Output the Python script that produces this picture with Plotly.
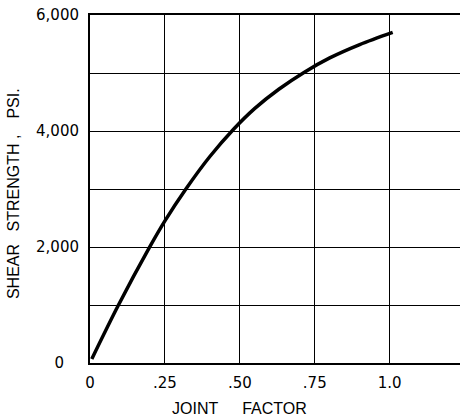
import plotly.graph_objects as go

# Curve data
joint_factor = [0.006, 0.095, 0.197, 0.25, 0.32, 0.40, 0.479, 0.55, 0.63, 0.714, 0.80, 0.90, 1.01]
shear_strength = [70, 1000, 1980, 2450, 3000, 3560, 4030, 4390, 4720, 5010, 5260, 5490, 5700]

# Axis ticks
x_tickvals = [0, 0.25, 0.5, 0.75, 1.0]
x_ticktext = ["0", ".25", ".50", ".75", "1.0"]
y_tickvals = [0, 1000, 2000, 3000, 4000, 5000, 6000]
y_ticktext = ["0\u2002\u2002", "", "2,000", "", "4,000", "", "6,000"]

x_title = "JOINT\u2003\u2002FACTOR"
y_title = "SHEAR\u2002 STRENGTH ,\u2003PSI."

fig = go.Figure()
fig.add_trace(go.Scatter(
    x=joint_factor, y=shear_strength, mode="lines",
    line=dict(color="black", width=3.5, shape="spline", smoothing=0.9),
    hoverinfo="skip",
))

tick_font = dict(family="DejaVu Sans", size=15, color="black")
title_font = dict(family="Liberation Sans, Arial", size=16, color="black")

fig.update_layout(
    width=460, height=419,
    margin=dict(l=90, r=0, t=15, b=56),
    paper_bgcolor="white", plot_bgcolor="white",
    showlegend=False,
    xaxis=dict(
        range=[0, 1.2346], tickvals=x_tickvals, ticktext=x_ticktext,
        showgrid=True, gridcolor="black", gridwidth=1.3,
        showline=True, linecolor="black", linewidth=2, mirror=True,
        zeroline=False, ticks="", tickfont=tick_font, ticklabelstandoff=5,
        fixedrange=True,
    ),
    yaxis=dict(
        range=[0, 6000], tickvals=y_tickvals, ticktext=y_ticktext,
        showgrid=True, gridcolor="black", gridwidth=1.3,
        showline=True, linecolor="black", linewidth=2, mirror=False,
        zeroline=False, ticks="", tickfont=tick_font, ticklabelstandoff=6,
        fixedrange=True,
    ),
    annotations=[
        dict(text=x_title, xref="paper", yref="paper", x=0.4046, y=-0.1316,
             showarrow=False, font=title_font, xanchor="center", yanchor="middle"),
        dict(text=y_title, xref="paper", yref="paper", x=-0.208, y=0.4856,
             showarrow=False, font=title_font, textangle=-90,
             xanchor="center", yanchor="middle"),
    ],
)

fig.write_html("out.html")
